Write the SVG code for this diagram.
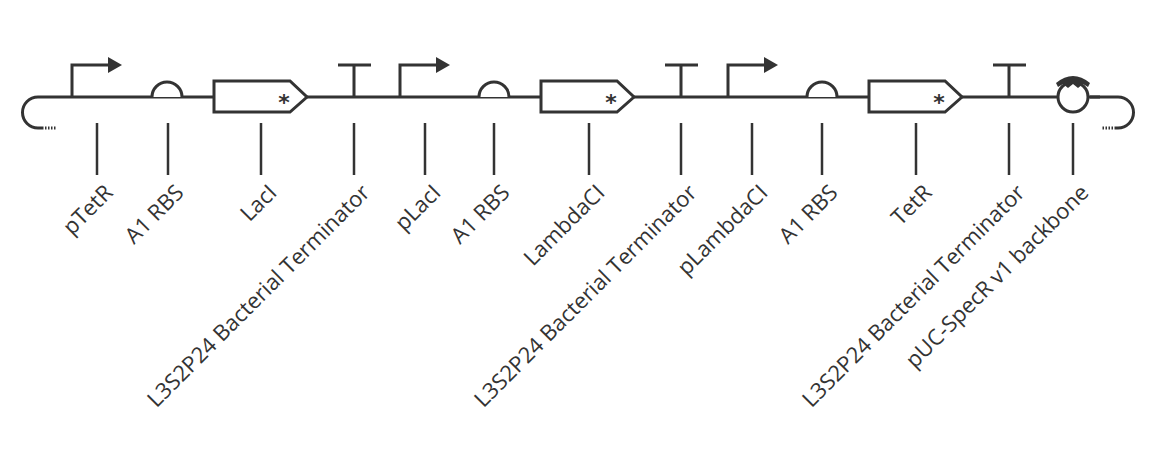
<svg xmlns="http://www.w3.org/2000/svg" width="1164" height="472" viewBox="0 0 1164 472">
<style>
.s{fill:none;stroke:#333;stroke-width:3}
.f{fill:#333}
.c{fill:#fff;stroke:#333;stroke-width:3}
.l{stroke:#333;stroke-width:2.5}
.t{font-family:"Open Sans",sans-serif;font-size:22px;fill:#333;text-anchor:end}
.a{font-family:"DejaVu Sans",sans-serif;font-size:22px;font-weight:bold;fill:#333;text-anchor:middle}
.d{fill:none;stroke:#333;stroke-width:3;stroke-dasharray:1.5 1.5}
</style>
<g id="connectors">
<path class="s" d="M1100 97 H38 A15.5 15.5 0 0 0 38 128 H42"/>
<path class="d" d="M42 128 H57"/>
<path class="s" d="M1090 97 H1118 A15.5 15.5 0 0 1 1118 128 H1116"/>
<path class="d" d="M1116 128 H1101"/>
<path class="l" d="M97 123V175M168 123V175M261 123V175M354 123V175M425 123V175M494 123V175M589 123V175M681 123V175M752 123V175M822 123V175M916 123V175M1009 123V175M1073 123V175"/>
</g>
<g id="pTetR"><path class="s" d="M72 97V65H110"/><path class="f" d="M108 57L122 65L108 73Z"/><text class="t" transform="translate(114,194) rotate(-45)">pTetR</text></g>
<g id="rbs1"><path class="c" d="M152 97A15 15 0 0 1 182 97"/><text class="t" transform="translate(185,194) rotate(-45)">A1 RBS</text></g>
<g id="LacI"><path class="c" d="M214 81H290L307 97L290 112H214Z"/><text class="a" x="284" y="110">*</text><text class="t" transform="translate(278,194) rotate(-45)">LacI</text></g>
<g id="term1"><path class="s" d="M354 97V65M338 65H371"/><text class="t" transform="translate(371,194) rotate(-45)">L3S2P24 Bacterial Terminator</text></g>
<g id="pLacI"><path class="s" d="M400 97V65H438"/><path class="f" d="M436 57L450 65L436 73Z"/><text class="t" transform="translate(442,194) rotate(-45)">pLacI</text></g>
<g id="rbs2"><path class="c" d="M479 97A15 15 0 0 1 509 97"/><text class="t" transform="translate(511,194) rotate(-45)">A1 RBS</text></g>
<g id="LambdaCI"><path class="c" d="M541 81H617L634 97L617 112H541Z"/><text class="a" x="611" y="110">*</text><text class="t" transform="translate(606,194) rotate(-45)">LambdaCI</text></g>
<g id="term2"><path class="s" d="M681 97V65M665 65H698"/><text class="t" transform="translate(698,194) rotate(-45)">L3S2P24 Bacterial Terminator</text></g>
<g id="pLambdaCI"><path class="s" d="M728 97V65H766"/><path class="f" d="M764 57L778 65L764 73Z"/><text class="t" transform="translate(769,194) rotate(-45)">pLambdaCI</text></g>
<g id="rbs3"><path class="c" d="M807 97A15 15 0 0 1 837 97"/><text class="t" transform="translate(839,194) rotate(-45)">A1 RBS</text></g>
<g id="TetR"><path class="c" d="M869 81H945L962 97L945 112H869Z"/><text class="a" x="939" y="110">*</text><text class="t" transform="translate(933,194) rotate(-45)">TetR</text></g>
<g id="term3"><path class="s" d="M1009 97V65M993 65H1026"/><text class="t" transform="translate(1026,194) rotate(-45)">L3S2P24 Bacterial Terminator</text></g>
<g id="backbone"><circle class="c" cx="1073" cy="97" r="15"/><path class="f" d="M1056 83Q1073 69 1090 83L1088 87L1083 84L1078 88L1073 84L1068 88L1063 84L1058 87Z"/><text class="t" transform="translate(1090,194) rotate(-45)">pUC-SpecR v1 backbone</text></g>
</svg>
